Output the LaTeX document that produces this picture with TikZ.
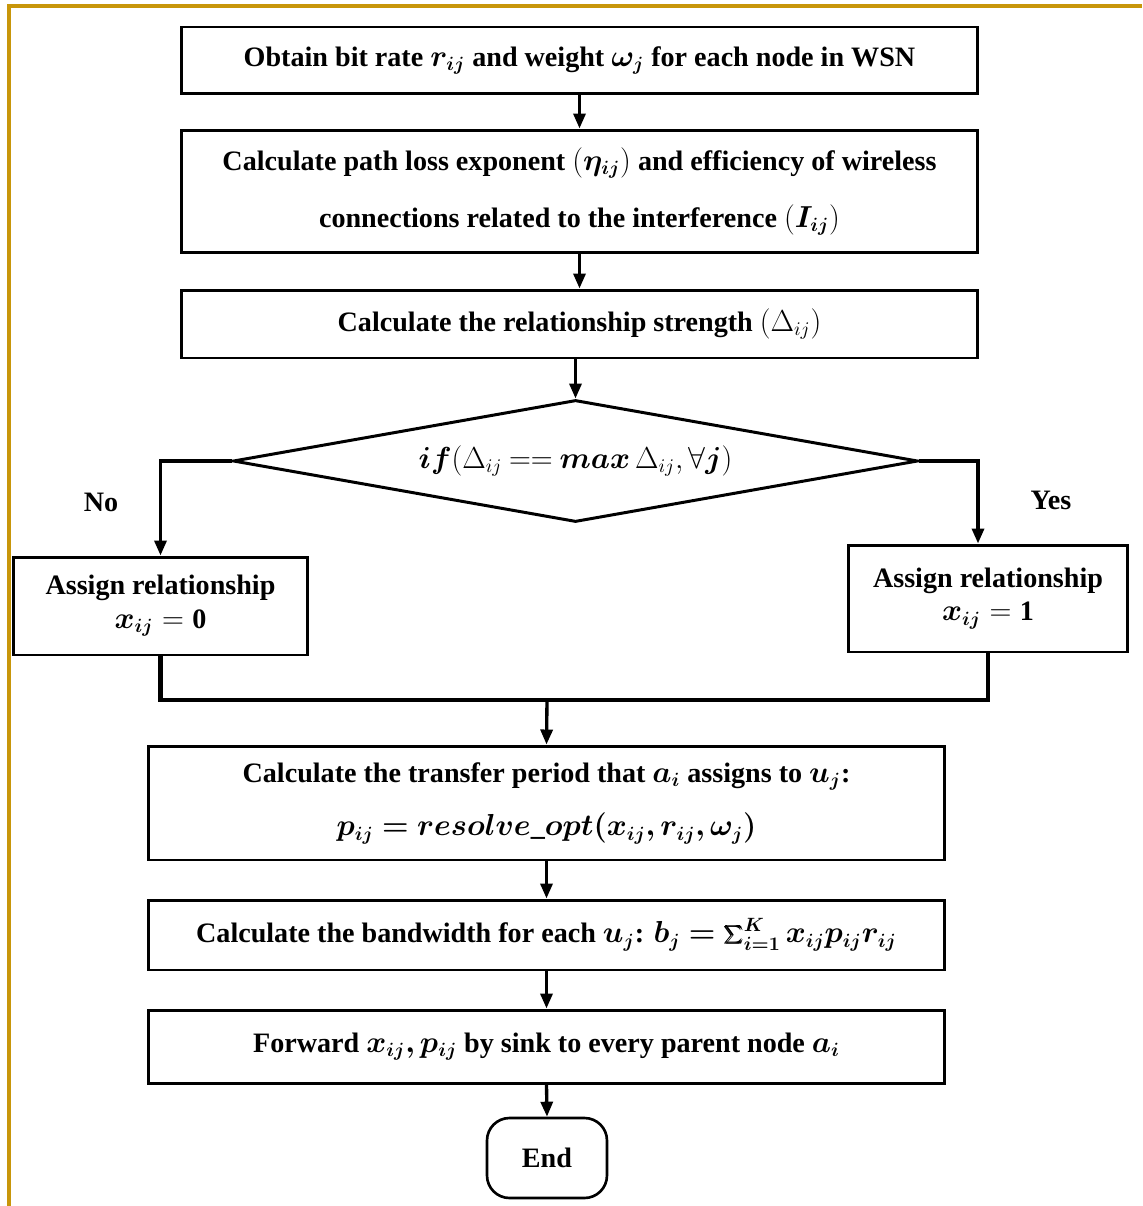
\documentclass[tikz,border=0pt]{standalone}
\usepackage{fontspec}
\setmainfont{Liberation Serif}
\usepackage{bm}
\usetikzlibrary{shapes.geometric,arrows.meta}
\definecolor{framegold}{RGB}{200,150,10}
\begin{document}
\begin{tikzpicture}[x=0.02cm, y=-0.02cm,
        every node/.style={font=\bfseries\fontsize{16}{19}\selectfont},
        stepbox/.style={draw, line width=1.7pt, minimum width=15.94cm, align=center, inner sep=0pt},
        sidebox/.style={draw, line width=1.7pt, align=center, inner sep=0pt},
        flow/.style={line width=1.9pt, -{Triangle[length=0.3cm, width=0.24cm]}},
        joinline/.style={line width=2.8pt}]
    \useasboundingbox (0,0) rectangle (1142,1206);
    \draw[framegold, line width=2.4pt] (9,1206) -- (9,6) -- (1142,6);
    \node[stepbox, minimum height=1.34cm] (obtain) at (579.5,60.5)
        {Obtain bit rate $\bm{r_{ij}}$ and weight $\bm{\omega_j}$ for each node in WSN};
    \node[stepbox, minimum height=2.46cm] (pathloss) at (579.5,191.5)
        {Calculate path loss exponent $\Bigl(\bm{\eta_{ij}}\Bigr)$ and efficiency of wireless\\[0.48cm]
         connections related to the interference $\Bigl(\bm{I_{ij}}\Bigr)$};
    \node[stepbox, minimum height=1.36cm] (strength) at (579.5,324)
        {Calculate the relationship strength $\Bigl(\Delta_{ij}\Bigr)$};
    \node[diamond, draw, line width=1.7pt, aspect=5.6, inner sep=0pt,
          minimum width=13.7cm, minimum height=2.44cm] (test) at (575.5,461)
        {$\bm{if}\Bigl(\Delta_{ij}\mathbin{==}\bm{max}\,\Delta_{ij}, \forall\bm{j}\Bigr)$};
    \node[sidebox, minimum width=5.9cm, minimum height=1.96cm] (assignzero) at (160.5,606)
        {Assign relationship\\ $\bm{x_{ij}} = \mathbf{0}$};
    \node[sidebox, minimum width=5.6cm, minimum height=2.14cm] (assignone) at (988,598.5)
        {Assign relationship\\ $\bm{x_{ij}} = \mathbf{1}$};
    \node (no) at (101,502) {No};
    \node (yes) at (1051,500) {Yes};
    \coordinate (merge) at (547,700);
    \node[stepbox, minimum height=2.28cm] (period) at (546.5,803)
        {Calculate the transfer period that $\bm{a_i}$ assigns to $\bm{u_j}$:\\[0.4cm]
         $\bm{p_{ij} = resolve\_opt\bigl(x_{ij}, r_{ij}, \omega_j\bigr)}$};
    \node[stepbox, minimum height=1.4cm] (bandwidth) at (546.5,935)
        {Calculate the bandwidth for each $\bm{u_j}$: $\bm{b_j = \sum_{i=1}^{K} x_{ij} p_{ij} r_{ij}}$};
    \node[stepbox, minimum height=1.46cm] (forward) at (546.5,1046.5)
        {Forward $\bm{x_{ij}, p_{ij}}$ by sink to every parent node $\bm{a_i}$};
    \node[draw, line width=1.5pt, rounded corners=0.45cm, minimum width=2.4cm,
          minimum height=1.6cm] (end) at (547,1158) {End};
    \draw[flow] (obtain.south) -- (pathloss.north);
    \draw[flow] (pathloss.south) -- (strength.north);
    \draw[flow] (strength.south -| test.north) -- (test.north);
    \draw[flow] (test.west) -| (assignzero.north);
    \draw[flow] (test.east) -| ([xshift=-0.2cm]assignone.north);
    \draw[joinline] (assignzero.south) |- (merge);
    \draw[joinline] (assignone.south) |- (merge);
    \draw[flow] (merge) -- (period.north);
    \draw[flow] (period.south) -- (bandwidth.north);
    \draw[flow] (bandwidth.south) -- (forward.north);
    \draw[flow] (forward.south) -- (end.north);
\end{tikzpicture}
\end{document}
